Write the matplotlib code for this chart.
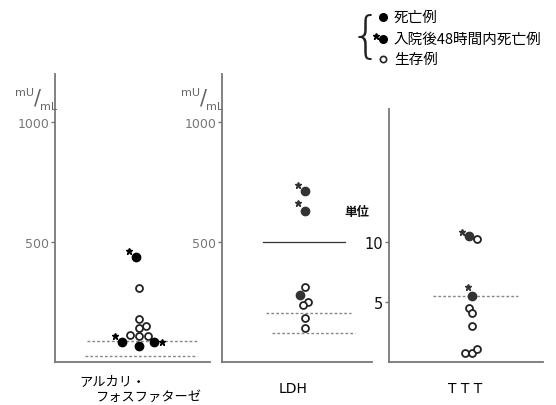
import matplotlib.pyplot as plt
import numpy as np

plt.rcParams['font.family'] = ['Noto Sans CJK JP', 'DejaVu Sans']

W, H = 556, 406

# アルカリフォスファターゼ (mU/mL)
alp_dead_x = [-3, -17, 0, 15]
alp_dead_y = [437, 83, 67, 83]
alp_star_x = [-10, -24, 23]
alp_star_y = [462, 108, 83]
alp_alive_x = [0, 0, 0, 7, -9, 0, 9]
alp_alive_y = [308, 179, 142, 150, 112, 108, 108]
alp_lines = [(87, '--', -52, 58), (25, '--', -54, 58)]

# LDH (mU/mL)
ldh_dead_x = [0, 0, -5]
ldh_dead_y = [712, 629, 279]
ldh_star_x = [-7, -7]
ldh_star_y = [737, 662]
ldh_alive_x = [0, 3, -2, 0, 0]
ldh_alive_y = [312, 250, 237, 183, 142]
ldh_lines = [(500, '-', -42, 40), (204, '--', -39, 46), (121, '--', -33, 50)]

# TTT (単位)
ttt_dead_x = [-3, 0]
ttt_dead_y = [10.5, 5.5]
ttt_star_x = [-10, -4]
ttt_star_y = [10.8, 6.2]
ttt_alive_x = [5, -3, 0, 0, -7, 0, 5]
ttt_alive_y = [10.2, 4.5, 4.1, 3.0, 0.75, 0.75, 1.1]
ttt_lines = [(5.5, '--', -39, 46)]

fig = plt.figure(figsize=(W / 100, H / 100), dpi=100)


def add_panel(left, right, top, bottom, center, ylim):
    ax = fig.add_axes([left / W, (H - bottom) / H, (right - left) / W, (bottom - top) / H])
    ax.set_xlim(left - center, right - center)
    ax.set_ylim(*ylim)
    for s in ['top', 'right']:
        ax.spines[s].set_visible(False)
    for s in ['left', 'bottom']:
        ax.spines[s].set_color('#777777')
        ax.spines[s].set_linewidth(1.3)
    ax.set_xticks([])
    ax.tick_params(axis='y', length=3, width=1, color='#777777', pad=1)
    return ax


def draw(ax, dx, dy, sx, sy, ax_, ay, lines, dark='black'):
    for y, ls, x0, x1 in lines:
        if ls == '-':
            ax.plot([x0, x1], [y, y], color='#333333', lw=0.9)
        else:
            ax.plot([x0, x1], [y, y], color='#888888', lw=1.0, ls=(0, (2, 1.5)))
    ax.plot(ax_, ay, 'o', ms=5, mfc='white', mec='#222222', mew=1.3, ls='none')
    ax.plot(dx, dy, 'o', ms=6, color=dark, ls='none')
    ax.plot(sx, sy, '*', ms=5, color=dark, ls='none')


ax1 = add_panel(55, 210, 75, 363, 139, (0, 1200))
ax1.set_yticks([500, 1000])
ax1.set_yticklabels(['500', '1000'], color='#777777', fontsize=9, family='DejaVu Sans')
draw(ax1, alp_dead_x, alp_dead_y, alp_star_x, alp_star_y, alp_alive_x, alp_alive_y, alp_lines)

ax2 = add_panel(222, 372, 75, 363, 305, (0, 1200))
ax2.set_yticks([500, 1000])
ax2.set_yticklabels(['500', '1000'], color='#777777', fontsize=9, family='DejaVu Sans')
draw(ax2, ldh_dead_x, ldh_dead_y, ldh_star_x, ldh_star_y, ldh_alive_x, ldh_alive_y, ldh_lines,
     dark='#333333')

ax3 = add_panel(389, 543, 110, 363, 472, (0, 21))
ax3.set_yticks([5, 10])
ax3.set_yticklabels(['5', '10'], color='#111111', fontsize=10.5, family='DejaVu Sans')
draw(ax3, ttt_dead_x, ttt_dead_y, ttt_star_x, ttt_star_y, ttt_alive_x, ttt_alive_y, ttt_lines,
     dark='#333333')


def ftext(x, y, s, **kw):
    fig.text(x / W, 1 - y / H, s, **kw)


# 単位ラベル
for x0 in (15, 181):
    ftext(x0, 93, 'mU', fontsize=8, color='#666666', va='center', family='DejaVu Sans')
    ftext(x0 + 19, 98, '/', fontsize=15, color='#666666', va='center', family='DejaVu Sans')
    ftext(x0 + 25, 107, 'mL', fontsize=8, color='#666666', va='center', family='DejaVu Sans')
ftext(344, 213, '単位', fontsize=9, color='#111111', va='center', weight='bold')

# 項目名
ftext(79, 382, 'アルカリ・', fontsize=9.5, va='center')
ftext(95, 397, 'フォスファターゼ', fontsize=9.5, va='center')
ftext(293, 389, 'LDH', fontsize=10, ha='center', va='center', family='DejaVu Sans')
ftext(465, 389, 'T T T', fontsize=10, ha='center', va='center', family='DejaVu Sans')

# 凡例
ftext(366, 38, '{', fontsize=36, ha='center', va='center', color='#222222',
      family='DejaVu Sans', weight='light')
legend_rows = [(18, '死亡例', 'dead'), (40, '入院後48時間内死亡例', 'star'), (60, '生存例', 'alive')]
for y, label, kind in legend_rows:
    if kind == 'alive':
        fig.lines.append(plt.Line2D([383 / W], [1 - y / H], marker='o', ms=4.5, mfc='white',
                                    mec='#222222', mew=1.2, transform=fig.transFigure))
    else:
        fig.lines.append(plt.Line2D([383 / W], [1 - y / H], marker='o', ms=5.5, color='black',
                                    transform=fig.transFigure))
    if kind == 'star':
        fig.lines.append(plt.Line2D([376 / W], [1 - (y - 3) / H], marker='*', ms=5, color='black',
                                    transform=fig.transFigure))
    ftext(394, y, label, fontsize=10.5, va='center')

fig.savefig('out.png', dpi=100)
